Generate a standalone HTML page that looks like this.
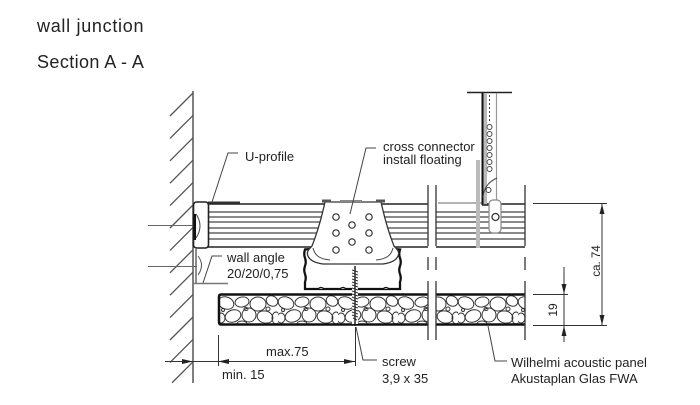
<!DOCTYPE html>
<html><head><meta charset="utf-8"><style>
html,body{margin:0;padding:0;background:#fff;}
svg{display:block}
text{font-family:"Liberation Sans",sans-serif;fill:#222}
</style></head><body>
<svg width="700" height="405" viewBox="0 0 700 405" xmlns="http://www.w3.org/2000/svg">
<defs>
<pattern id="peb" patternUnits="userSpaceOnUse" x="218" y="294" width="60" height="31">
<g fill="none" stroke="#333" stroke-width="1">
<ellipse cx="8" cy="9" rx="8" ry="6" transform="rotate(20 8 9)"/>
<ellipse cx="24" cy="8" rx="7" ry="5" transform="rotate(-10 24 8)"/>
<ellipse cx="40" cy="10" rx="8" ry="7"/>
<ellipse cx="54" cy="7" rx="6" ry="5" transform="rotate(30 54 7)"/>
<ellipse cx="15" cy="22" rx="8" ry="6" transform="rotate(-20 15 22)"/>
<ellipse cx="31" cy="21" rx="7" ry="7"/>
<ellipse cx="47" cy="23" rx="8" ry="6" transform="rotate(15 47 23)"/>
<ellipse cx="3" cy="24" rx="4" ry="5"/>
<ellipse cx="58" cy="24" rx="4" ry="6"/>
<ellipse cx="24" cy="30" rx="5" ry="3"/>
<ellipse cx="28" cy="15" rx="2" ry="1.5"/>
<circle cx="50" cy="15" r="2"/>
<circle cx="5" cy="16" r="1.5"/>
</g>
</pattern>
</defs>

<!-- titles -->
<text x="37" y="32" font-size="18" letter-spacing="0.7">wall junction</text>
<text x="37" y="68" font-size="18" letter-spacing="0.4">Section A - A</text>

<!-- wall -->
<line x1="193" y1="91" x2="193" y2="383" stroke="#555" stroke-width="1.5"/>
<g stroke="#555" stroke-width="1.3">
<line x1="193" y1="93" x2="170" y2="116"/>
<line x1="193" y1="115.4" x2="170" y2="138.4"/>
<line x1="193" y1="137.8" x2="170" y2="160.8"/>
<line x1="193" y1="160.2" x2="170" y2="183.2"/>
<line x1="193" y1="182.6" x2="170" y2="205.6"/>
<line x1="193" y1="205" x2="170" y2="228"/>
<line x1="193" y1="227.4" x2="170" y2="250.4"/>
<line x1="193" y1="249.8" x2="170" y2="272.8"/>
<line x1="193" y1="272.2" x2="170" y2="295.2"/>
<line x1="193" y1="294.6" x2="170" y2="317.6"/>
<line x1="193" y1="317" x2="170" y2="340"/>
<line x1="193" y1="339.4" x2="170" y2="362.4"/>
<line x1="193" y1="361.8" x2="172" y2="382.8"/>
</g>
<line x1="148" y1="225.5" x2="200" y2="225.5" stroke="#666" stroke-width="1"/>
<line x1="148" y1="266.5" x2="197" y2="266.5" stroke="#666" stroke-width="1"/>

<!-- upper profile left -->
<g stroke="#444" stroke-width="1.2">
<line x1="208" y1="212" x2="428" y2="212"/>
<line x1="208" y1="217" x2="428" y2="217"/>
<line x1="208" y1="222" x2="428" y2="222"/>
<line x1="208" y1="228" x2="428" y2="228"/>
<line x1="208" y1="233" x2="428" y2="233"/>
<line x1="208" y1="239" x2="428" y2="239"/>
</g>
<line x1="208" y1="204" x2="428" y2="204" stroke="#222" stroke-width="1.6"/>
<line x1="208" y1="247" x2="428" y2="247" stroke="#222" stroke-width="1.6"/>
<line x1="208" y1="202.5" x2="240" y2="202.5" stroke="#333" stroke-width="2"/>

<!-- upper profile right -->
<g stroke="#444" stroke-width="1.2">
<line x1="436" y1="212" x2="525" y2="212"/>
<line x1="436" y1="217" x2="525" y2="217"/>
<line x1="436" y1="222" x2="525" y2="222"/>
<line x1="436" y1="228" x2="525" y2="228"/>
<line x1="436" y1="233" x2="525" y2="233"/>
<line x1="436" y1="239" x2="525" y2="239"/>
</g>
<line x1="438" y1="203" x2="482" y2="203" stroke="#999" stroke-width="1.6"/>
<line x1="482" y1="204" x2="525" y2="204" stroke="#222" stroke-width="1.6"/>
<line x1="436" y1="247" x2="525" y2="247" stroke="#222" stroke-width="1.6"/>

<!-- end cap -->
<rect x="193.5" y="202" width="15" height="46" rx="3" fill="#fff" stroke="#222" stroke-width="1.6"/>
<line x1="194.8" y1="214" x2="194.8" y2="240" stroke="#111" stroke-width="2.5"/>
<path d="M196 214 Q204 226 196 238" fill="none" stroke="#444" stroke-width="1"/>

<!-- wall angle -->
<line x1="196" y1="249" x2="196" y2="283" stroke="#666" stroke-width="1.5"/>
<line x1="193" y1="283.5" x2="228" y2="283.5" stroke="#777" stroke-width="1.5"/>
<path d="M198 256 Q205 265 198 275" fill="none" stroke="#555" stroke-width="1"/>

<!-- lower carrier box -->
<path d="M311 249 L305 249.5 Q303.5 254 305 258 Q306.5 262 305 266 Q303.5 270 305 274 Q306.5 278 305 282 L305 289 L400 289 L400 282 Q401.5 278 400 274 Q398.5 270 400 266 Q401.5 262 400 258 Q398.5 254 400 249.5 L394 249" fill="none" stroke="#111" stroke-width="2.3"/>
<g fill="#fff" stroke="#111" stroke-width="1.5">
<path d="M318 289 q3 -3 6 0"/><path d="M340 289 q3 -3 6 0"/><path d="M383 289 q3 -3 6 0"/>
</g>

<!-- cross connector -->
<path d="M325 202 L381 202 C385 220 390 236 394 246 C397 249 400 252 398 256 C396 261 390 263 383 264 L323 264 C316 263 310 261 308 256 C306 252 309 249 312 246 C316 236 321 220 325 202 Z" fill="#fff" stroke="#333" stroke-width="1.3"/>
<path d="M313 248 C315 256 320 259 330 260" fill="none" stroke="#444" stroke-width="1"/>
<path d="M393 248 C391 256 386 259 376 260" fill="none" stroke="#444" stroke-width="1"/>
<rect x="322" y="199.5" width="9" height="3" fill="#555"/>
<rect x="376" y="199.5" width="9" height="3" fill="#555"/>
<rect x="340" y="200" width="22" height="2" fill="#888"/>
<g fill="none" stroke="#333" stroke-width="1.2">
<circle cx="336" cy="217" r="3.2"/>
<circle cx="369" cy="217" r="3.2"/>
<circle cx="352" cy="225" r="3.2"/>
<circle cx="336" cy="233" r="3.2"/>
<circle cx="369" cy="233" r="3.2"/>
<circle cx="352" cy="242" r="3.2"/>
<circle cx="336" cy="250" r="3.2"/>
<circle cx="369" cy="250" r="3.2"/>
</g>

<!-- panel -->
<rect x="218" y="294" width="210" height="31" fill="url(#peb)"/>
<rect x="436" y="294" width="89" height="31" fill="url(#peb)"/>
<g stroke="#111" stroke-width="2.5" fill="none">
<path d="M428 294.5 L221 294.5 Q219 294.5 219 297 L219 322 Q219 324.5 221 324.5 L428 324.5"/>
<line x1="436" y1="294.5" x2="525" y2="294.5"/>
<line x1="436" y1="324.5" x2="525" y2="324.5"/>
</g>

<!-- screw -->
<rect x="352" y="266" width="6" height="58" fill="#fff"/>
<line x1="355" y1="266" x2="355" y2="326" stroke="#222" stroke-width="1.5"/>
<path d="M352 270 L358 272 M352 273 L358 275 M352 276 L358 278 M352 279 L358 281 M352 282 L358 284 M352 285 L358 287 M352 288 L358 290 M352 291 L358 293 M352 294 L358 296 M352 297 L358 299 M352 300 L358 302 M352 303 L358 305 M352 306 L358 308 M352 309 L358 311 M352 312 L358 314 M352 315 L358 317 M353 318 L357 320" stroke="#333" stroke-width="1"/>

<!-- break lines -->
<g stroke="#333" stroke-width="1.3">
<line x1="428" y1="185" x2="428" y2="246"/><line x1="428" y1="257" x2="428" y2="270"/><line x1="428" y1="281" x2="428" y2="340"/>
<line x1="436" y1="185" x2="436" y2="246"/><line x1="436" y1="257" x2="436" y2="270"/><line x1="436" y1="281" x2="436" y2="340"/>
<line x1="525" y1="185" x2="525" y2="246"/><line x1="525" y1="257" x2="525" y2="270"/><line x1="525" y1="281" x2="525" y2="340"/>
</g>

<!-- hanger -->
<line x1="467" y1="92.5" x2="512" y2="92.5" stroke="#222" stroke-width="1.5"/>
<rect x="476" y="160" width="4" height="88" fill="#bbb"/>
<rect x="483" y="93" width="4" height="112" fill="#bbb"/>
<line x1="482.5" y1="93" x2="482.5" y2="205" stroke="#111" stroke-width="2"/>
<line x1="496.5" y1="93" x2="496.5" y2="200" stroke="#999" stroke-width="1.2"/>
<line x1="482" y1="205" x2="494" y2="205" stroke="#222" stroke-width="1.5"/>
<line x1="489.5" y1="95" x2="489.5" y2="122" stroke="#444" stroke-width="1" stroke-dasharray="2 2"/>
<g fill="none" stroke="#444" stroke-width="1">
<circle cx="489.5" cy="127" r="2.5"/>
<circle cx="489.5" cy="134" r="2.5"/>
<circle cx="489.5" cy="141" r="2.5"/>
<circle cx="489.5" cy="148" r="2.5"/>
<circle cx="489.5" cy="155" r="2.5"/>
<circle cx="489.5" cy="162" r="2.5"/>
<circle cx="489.5" cy="169" r="2.5"/>
<circle cx="488.5" cy="190" r="2.5"/>
<path d="M483 197 C484 188 488 182 497 178"/>
</g>
<rect x="489" y="200" width="12" height="33" rx="4" fill="#fff" stroke="#888" stroke-width="1.2"/>
<circle cx="495.5" cy="217" r="3.5" fill="none" stroke="#333" stroke-width="1.3"/>

<!-- right dimensions -->
<g stroke="#333" stroke-width="1">
<line x1="533" y1="203.5" x2="607" y2="203.5"/>
<line x1="533" y1="325.5" x2="607" y2="325.5"/>
<line x1="533" y1="294.5" x2="568" y2="294.5"/>
<line x1="602" y1="203" x2="602" y2="326"/>
<line x1="564" y1="267" x2="564" y2="342"/>
</g>
<g fill="#222">
<polygon points="602,204 599.5,214 604.5,214"/>
<polygon points="602,325 599.5,315 604.5,315"/>
<polygon points="564,294 561.5,284 566.5,284"/>
<polygon points="564,326 561.5,336 566.5,336"/>
</g>
<text transform="translate(600,261) rotate(-90)" text-anchor="middle" font-size="11.5">ca. 74</text>
<text transform="translate(557,310) rotate(-90)" text-anchor="middle" font-size="12">19</text>

<!-- bottom dimensions -->
<g stroke="#333" stroke-width="1">
<line x1="165" y1="361.5" x2="355" y2="361.5"/>
<line x1="218.5" y1="335" x2="218.5" y2="366"/>
<line x1="355.5" y1="327" x2="355.5" y2="366"/>
</g>
<g fill="#222">
<polygon points="193,361.5 182,359 182,364"/>
<polygon points="218,361.5 229,359 229,364"/>
<polygon points="355,361.5 344,359 344,364"/>
</g>

<!-- leaders -->
<g fill="none" stroke="#444" stroke-width="1">
<path d="M238 153 L228 153 L212 202"/>
<path d="M376 148 L366 148 L350 214"/>
<path d="M222 256 L212 256 L203 283"/>
<path d="M356 327 L363 360 L377 360"/>
<path d="M488 326 L495 361 L507 361"/>
</g>

<!-- labels -->
<g font-size="13">
<text x="245" y="161">U-profile</text>
<text x="383" y="151">cross connector</text>
<text x="383" y="164">install floating</text>
<text x="227" y="262">wall angle</text>
<text x="227" y="278">20/20/0,75</text>
<text x="266" y="356">max.75</text>
<text x="222" y="379">min. 15</text>
<text x="382" y="366">screw</text>
<text x="382" y="383">3,9 x 35</text>
<text x="511" y="367">Wilhelmi acoustic panel</text>
<text x="511" y="383">Akustaplan Glas FWA</text>
</g>
</svg>
</body></html>
